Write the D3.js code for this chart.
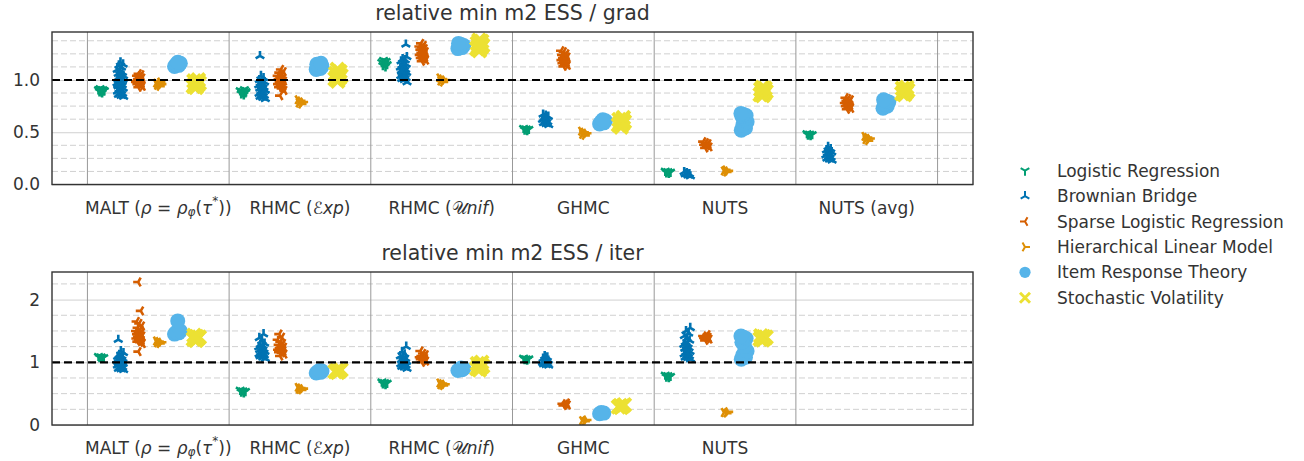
<!DOCTYPE html>
<html>
<head>
<meta charset="utf-8">
<script src="https://cdn.jsdelivr.net/npm/d3@7"></script>
<style>
  body { margin: 0; background: #fff; }
  text { font-family: "DejaVu Sans", sans-serif; fill: #333; }
</style>
</head>
<body>
<svg id="chart" width="1304" height="461"></svg>
<script>
const models = ['Logistic Regression', 'Brownian Bridge', 'Sparse Logistic Regression',
  'Hierarchical Linear Model', 'Item Response Theory', 'Stochastic Volatility'];
const modelColors = ['#029e73', '#0173b2', '#d55e00', '#de8f05', '#56b4e9', '#ece133'];
const modelMarkers = ['triDown', 'triUp', 'triLeft', 'triRight', 'circle', 'x'];

const methodsGrad = ['MALT', 'RHMC (Exp)', 'RHMC (Unif)', 'GHMC', 'NUTS', 'NUTS (avg)'];
const methodsIter = ['MALT', 'RHMC (Exp)', 'RHMC (Unif)', 'GHMC', 'NUTS'];

const gradTicks = [0, 0.5, 1.0];
const iterTicks = [0, 1, 2];

// relative min m2 ESS / grad, one list per model
const gradMalt = [
  [0.88, 0.89, 0.90, 0.90, 0.91, 0.91, 0.92, 0.90, 0.89, 0.91],
  [0.84, 0.85, 0.86, 0.87, 0.88, 0.89, 0.90, 0.91, 0.92, 0.93, 0.94, 0.95, 0.96, 0.97, 0.98, 0.99, 1.00, 1.00, 1.01, 1.02, 1.03, 1.04, 1.05, 1.06, 1.07, 1.09, 1.10, 1.12, 1.14, 1.15, 1.17, 0.95, 0.98, 1.01],
  [0.93, 0.94, 0.95, 0.96, 0.97, 0.98, 0.99, 1.00, 1.01, 1.02, 1.03, 1.04, 1.05, 1.06, 0.98, 1.00],
  [0.94, 0.95, 0.96, 0.96, 0.97, 0.98],
  [1.13, 1.14, 1.15, 1.16, 1.17],
  [0.93, 0.94, 0.95, 0.96, 0.97, 0.98, 0.99, 1.00]
];
const gradRhmcExp = [
  [0.86, 0.87, 0.88, 0.89, 0.90, 0.91, 0.88, 0.89],
  [0.82, 0.83, 0.84, 0.85, 0.86, 0.87, 0.88, 0.89, 0.90, 0.91, 0.92, 0.93, 0.94, 0.95, 0.96, 0.97, 0.98, 0.99, 1.00, 1.02, 1.04, 0.90, 0.93, 1.23],
  [0.85, 0.90, 0.92, 0.93, 0.94, 0.95, 0.96, 0.97, 0.98, 0.99, 1.00, 1.01, 1.02, 1.03, 1.04, 1.05, 1.07, 1.08, 1.10],
  [0.77, 0.78, 0.79, 0.80, 0.81],
  [1.10, 1.11, 1.12, 1.13, 1.14, 1.15, 1.16],
  [0.99, 1.01, 1.02, 1.03, 1.04, 1.05, 1.06, 1.08, 1.10]
];
const gradRhmcUnif = [
  [1.13, 1.14, 1.15, 1.16, 1.17, 1.18, 1.19],
  [0.98, 1.00, 1.01, 1.02, 1.03, 1.04, 1.05, 1.06, 1.07, 1.08, 1.09, 1.10, 1.11, 1.12, 1.13, 1.14, 1.15, 1.16, 1.18, 1.19, 1.20, 1.22, 1.04, 1.08, 1.34],
  [1.18, 1.19, 1.20, 1.21, 1.22, 1.23, 1.24, 1.25, 1.26, 1.27, 1.28, 1.29, 1.30, 1.31, 1.32, 1.33, 1.35],
  [0.98, 0.99, 1.00, 1.01, 1.02],
  [1.30, 1.31, 1.32, 1.33, 1.34, 1.35],
  [1.28, 1.30, 1.31, 1.32, 1.33, 1.34, 1.35, 1.37, 1.38]
];
const gradGhmc = [
  [0.52, 0.525, 0.53, 0.535, 0.54],
  [0.57, 0.58, 0.59, 0.60, 0.61, 0.62, 0.63, 0.64, 0.65, 0.66, 0.67],
  [1.13, 1.14, 1.15, 1.16, 1.17, 1.18, 1.19, 1.20, 1.21, 1.22, 1.23, 1.24, 1.25, 1.27, 1.28],
  [0.47, 0.48, 0.49, 0.50, 0.51],
  [0.58, 0.59, 0.60, 0.61, 0.62],
  [0.55, 0.57, 0.58, 0.59, 0.60, 0.61, 0.62, 0.64]
];
const gradNuts = [
  [0.11, 0.115, 0.12, 0.125, 0.13],
  [0.08, 0.09, 0.10, 0.10, 0.11, 0.12, 0.09],
  [0.35, 0.36, 0.37, 0.38, 0.39, 0.40, 0.41, 0.38],
  [0.12, 0.13, 0.13, 0.14],
  [0.52, 0.54, 0.57, 0.60, 0.63, 0.65, 0.66, 0.67, 0.68],
  [0.85, 0.86, 0.87, 0.88, 0.89, 0.90, 0.91, 0.92, 0.93]
];
const gradNutsAvg = [
  [0.47, 0.475, 0.48, 0.485, 0.49],
  [0.23, 0.24, 0.25, 0.26, 0.27, 0.28, 0.29, 0.30, 0.31, 0.32, 0.33, 0.34, 0.36],
  [0.72, 0.73, 0.74, 0.75, 0.76, 0.77, 0.78, 0.79, 0.80, 0.81, 0.82, 0.83],
  [0.42, 0.43, 0.44, 0.45, 0.46],
  [0.73, 0.75, 0.77, 0.79, 0.80, 0.81],
  [0.86, 0.87, 0.88, 0.89, 0.90, 0.91, 0.92, 0.93]
];

// relative min m2 ESS / iter
const iterMalt = [
  [1.07, 1.08, 1.08, 1.09, 1.10],
  [0.88, 0.89, 0.90, 0.92, 0.93, 0.95, 0.96, 0.97, 0.98, 0.99, 1.00, 1.01, 1.02, 1.03, 1.04, 1.05, 1.06, 1.07, 1.09, 1.10, 1.12, 1.15, 1.18, 1.36],
  [1.17, 1.30, 1.32, 1.33, 1.35, 1.36, 1.38, 1.40, 1.41, 1.42, 1.44, 1.45, 1.46, 1.48, 1.50, 1.52, 1.55, 1.58, 1.62, 1.65, 1.82, 2.28],
  [1.30, 1.31, 1.32, 1.33, 1.34],
  [1.45, 1.47, 1.48, 1.50, 1.66],
  [1.35, 1.37, 1.38, 1.39, 1.40, 1.41, 1.43]
];
const iterRhmcExp = [
  [0.52, 0.53, 0.54, 0.55, 0.56],
  [1.06, 1.08, 1.10, 1.11, 1.12, 1.13, 1.14, 1.16, 1.17, 1.18, 1.20, 1.21, 1.22, 1.24, 1.26, 1.28, 1.30, 1.34, 1.39, 1.45],
  [1.10, 1.13, 1.15, 1.16, 1.18, 1.19, 1.20, 1.22, 1.23, 1.24, 1.26, 1.28, 1.30, 1.33, 1.36, 1.40, 1.45],
  [0.56, 0.57, 0.58, 0.59, 0.60],
  [0.83, 0.84, 0.85, 0.86, 0.87],
  [0.84, 0.85, 0.86, 0.87, 0.88]
];
const iterRhmcUnif = [
  [0.65, 0.66, 0.67, 0.68, 0.69],
  [0.90, 0.92, 0.93, 0.95, 0.96, 0.97, 0.99, 1.00, 1.01, 1.02, 1.04, 1.06, 1.08, 1.10, 1.13, 1.17, 1.25],
  [1.00, 1.02, 1.03, 1.05, 1.06, 1.07, 1.08, 1.09, 1.10, 1.12, 1.14, 1.18],
  [0.63, 0.64, 0.65, 0.66, 0.67],
  [0.87, 0.88, 0.89, 0.90, 0.91],
  [0.88, 0.90, 0.92, 0.93, 0.94, 0.96, 0.98, 1.00]
];
const iterGhmc = [
  [1.04, 1.05, 1.06, 1.06, 1.07],
  [0.95, 0.96, 0.97, 0.98, 0.99, 1.00, 1.01, 1.02, 1.03, 1.04, 1.06, 1.08, 1.10],
  [0.31, 0.32, 0.33, 0.34, 0.35],
  [0.06, 0.07, 0.08],
  [0.18, 0.19, 0.20],
  [0.28, 0.29, 0.30, 0.31, 0.32]
];
const iterNuts = [
  [0.76, 0.77, 0.78, 0.79, 0.80],
  [1.05, 1.07, 1.08, 1.10, 1.11, 1.13, 1.14, 1.16, 1.17, 1.20, 1.22, 1.23, 1.26, 1.28, 1.29, 1.32, 1.35, 1.38, 1.42, 1.46, 1.50, 1.55],
  [1.35, 1.37, 1.38, 1.39, 1.40, 1.41, 1.42, 1.44],
  [0.19, 0.20, 0.21],
  [1.05, 1.08, 1.12, 1.18, 1.25, 1.32, 1.38, 1.40, 1.42],
  [1.36, 1.37, 1.38, 1.39, 1.40, 1.41, 1.42]
];

const svg = d3.select('#chart');
const left = 52;
const right = 973;

// shared x: categories at 0..5, hue slots dodged around them
const x = d3.scaleLinear().domain([-0.75, 5.75]).range([left, right]);
const dodge = 0.134;
const jitter = 0.024;

function markerPath(type, big) {
  const r = 5;
  const c = 0.866 * r;
  const h = 0.5 * r;
  const s = big ? 6.5 : 5;
  switch (type) {
    case 'triDown':
      return `M0,0L0,${r}M0,0L${c},${-h}M0,0L${-c},${-h}`;
    case 'triUp':
      return `M0,0L0,${-r}M0,0L${c},${h}M0,0L${-c},${h}`;
    case 'triLeft':
      return `M0,0L${-r},0M0,0L${h},${c}M0,0L${h},${-c}`;
    case 'triRight':
      return `M0,0L${r},0M0,0L${-h},${c}M0,0L${-h},${-c}`;
    case 'x':
      return `M${-s},${-s}L${s},${s}M${-s},${s}L${s},${-s}`;
    default:
      return d3.symbol(d3.symbolCircle, Math.PI * (big ? 7.5 * 7.5 : 5.6 * 5.6))();
  }
}

function styleMarker(sel, k, big) {
  const type = modelMarkers[k];
  if (type === 'circle') {
    sel.attr('fill', modelColors[k]).attr('stroke', 'none');
  } else {
    sel.attr('fill', 'none')
      .attr('stroke', modelColors[k])
      .attr('stroke-width', type === 'x' ? (big ? 4 : 3) : (big ? 2.6 : 2))
      .attr('stroke-linecap', 'butt');
  }
}

function drawPanel(cfg) {
  const y = d3.scaleLinear().domain(cfg.domain).range([cfg.bottom, cfg.top]);
  const g = svg.append('g');

  // minor dashed grid
  const minor = d3.range(0, cfg.domain[1], cfg.minorStep)
    .filter((v) => cfg.ticks.every((t) => Math.abs(t - v) > 1e-9));
  g.append('g')
    .selectAll('line')
    .data(minor)
    .enter()
    .append('line')
    .attr('x1', left).attr('x2', right)
    .attr('y1', (d) => y(d)).attr('y2', (d) => y(d))
    .attr('stroke', '#d0d0d0')
    .attr('stroke-width', 1)
    .attr('stroke-dasharray', '6,3');

  // major grid
  g.append('g')
    .attr('transform', `translate(${left},0)`)
    .call(d3.axisLeft(y).tickValues(cfg.ticks).tickSize(-(right - left)).tickFormat(''))
    .call((a) => a.select('.domain').remove())
    .call((a) => a.selectAll('line').attr('stroke', '#d0d0d0').attr('stroke-width', 1));

  // category separators
  g.append('g')
    .selectAll('line')
    .data(d3.range(cfg.methods.length + 1))
    .enter()
    .append('line')
    .attr('x1', (d) => x(d - 0.5)).attr('x2', (d) => x(d - 0.5))
    .attr('y1', cfg.top).attr('y2', cfg.bottom)
    .attr('stroke', '#999')
    .attr('stroke-width', 1);

  // points
  const clip = `clip${cfg.id}`;
  svg.append('clipPath').attr('id', clip)
    .append('rect')
    .attr('x', left).attr('y', cfg.top)
    .attr('width', right - left).attr('height', cfg.bottom - cfg.top);
  const pts = g.append('g').attr('clip-path', `url(#${clip})`);
  models.forEach((m, k) => {
    const rows = [];
    cfg.data.forEach((perModel, ci) => {
      perModel[k].forEach((v, i) => {
        const jit = (((i + 1) * 0.6180339887 + k * 0.37) % 1 - 0.5) * 2 * jitter;
        rows.push({ cx: ci + (k - 3) * dodge + jit, v });
      });
    });
    pts.append('g')
      .selectAll('path')
      .data(rows)
      .enter()
      .append('path')
      .attr('d', markerPath(modelMarkers[k], true))
      .attr('transform', (d) => `translate(${x(d.cx)},${y(d.v)})`)
      .call(styleMarker, k, true);
  });

  // reference line at 1
  g.append('line')
    .attr('x1', left).attr('x2', right)
    .attr('y1', y(1)).attr('y2', y(1))
    .attr('stroke', '#000')
    .attr('stroke-width', 2.2)
    .attr('stroke-dasharray', '8,4');

  // frame
  g.append('rect')
    .attr('x', left).attr('y', cfg.top)
    .attr('width', right - left).attr('height', cfg.bottom - cfg.top)
    .attr('fill', 'none')
    .attr('stroke', '#333')
    .attr('stroke-width', 1.4);

  // y tick labels
  g.append('g')
    .attr('transform', `translate(${left},0)`)
    .call(d3.axisLeft(y).tickValues(cfg.ticks).tickSize(0).tickPadding(12).tickFormat(d3.format(cfg.fmt)))
    .call((a) => a.select('.domain').remove())
    .call((a) => a.selectAll('text')
      .attr('font-size', 17)
      .attr('font-family', '"DejaVu Sans", sans-serif')
      .attr('fill', '#333'));

  // x category labels
  cfg.methods.forEach((m, i) => {
    const t = g.append('text')
      .attr('x', x(i))
      .attr('y', cfg.bottom + 23)
      .attr('text-anchor', 'middle')
      .attr('dominant-baseline', 'central')
      .attr('font-size', 17);
    labelParts(m).forEach((p) => {
      const s = t.append('tspan').text(p.t);
      if (p.it) s.attr('font-style', 'italic');
      if (p.sub) s.attr('font-size', 12).attr('dy', 4);
      if (p.sup) s.attr('font-size', 12).attr('dy', -7);
      if (p.back) s.attr('dy', p.back);
    });
  });

  // title
  g.append('text')
    .attr('x', (left + right) / 2)
    .attr('y', cfg.top - 19)
    .attr('text-anchor', 'middle')
    .attr('dominant-baseline', 'central')
    .attr('font-size', 20.5)
    .text(cfg.title);
}

function labelParts(m) {
  if (m === 'MALT') {
    return [
      { t: 'MALT (' }, { t: 'ρ', it: true }, { t: ' = ' }, { t: 'ρ', it: true },
      { t: 'φ', it: true, sub: true }, { t: '(', back: -4 }, { t: 'τ', it: true },
      { t: '*', sup: true }, { t: '))', back: 7 }
    ];
  }
  if (m === 'RHMC (Exp)') return [{ t: 'RHMC (' }, { t: 'ℰ' }, { t: 'xp', it: true }, { t: ')' }];
  if (m === 'RHMC (Unif)') return [{ t: 'RHMC (' }, { t: '𝒰' }, { t: 'nif', it: true }, { t: ')' }];
  return [{ t: m }];
}

drawPanel({
  id: 'grad', top: 32, bottom: 184.5, domain: [0, 1.459], ticks: gradTicks, minorStep: 0.125,
  fmt: '.1f', methods: methodsGrad,
  data: [gradMalt, gradRhmcExp, gradRhmcUnif, gradGhmc, gradNuts, gradNutsAvg],
  title: 'relative min m2 ESS / grad'
});
drawPanel({
  id: 'iter', top: 272, bottom: 425, domain: [0, 2.44], ticks: iterTicks, minorStep: 0.25,
  fmt: 'd', methods: methodsIter,
  data: [iterMalt, iterRhmcExp, iterRhmcUnif, iterGhmc, iterNuts],
  title: 'relative min m2 ESS / iter'
});

// legend
const legend = svg.append('g').attr('transform', 'translate(1025,170.7)');
models.forEach((m, k) => {
  const row = legend.append('g').attr('transform', `translate(0,${k * 25.4})`);
  row.append('path').attr('d', markerPath(modelMarkers[k], false)).call(styleMarker, k, false);
  row.append('text')
    .attr('x', 32)
    .attr('dominant-baseline', 'central')
    .attr('font-size', 17)
    .text(m);
});
</script>
</body>
</html>
